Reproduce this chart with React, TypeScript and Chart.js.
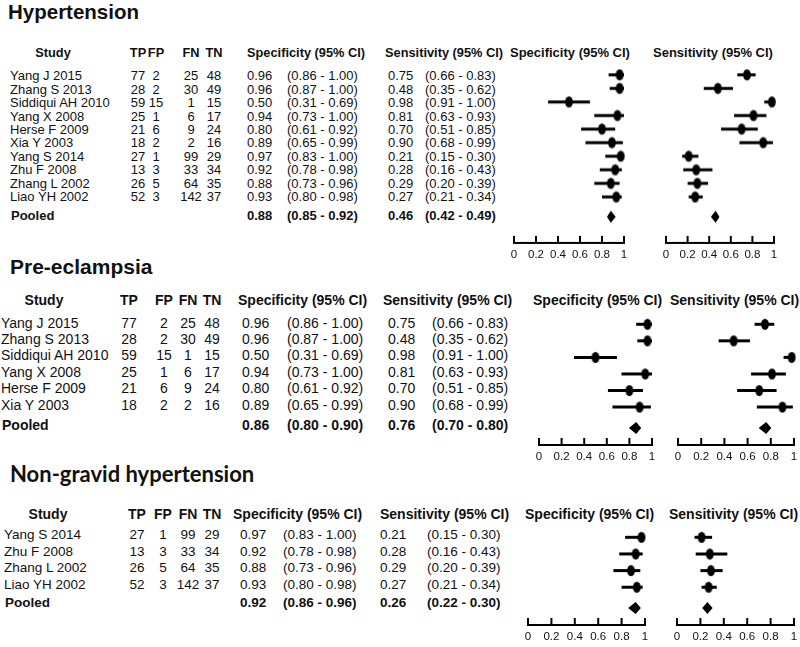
import React, { useEffect, useRef } from "react";
import { Chart, registerables } from "chart.js";
Chart.register(...registerables);

// ---------- DATA ----------
const STUDIES = ["Yang J 2015", "Zhang S 2013", "Siddiqui AH 2010", "Yang X 2008", "Herse F 2009", "Xia Y 2003", "Yang S 2014", "Zhu F 2008", "Zhang L 2002", "Liao YH 2002"];
const TP = [77, 28, 59, 25, 21, 18, 27, 13, 26, 52];
const FP = [2, 2, 15, 1, 6, 2, 1, 3, 5, 3];
const FN = [25, 30, 1, 6, 9, 2, 99, 33, 64, 142];
const TN = [48, 49, 15, 17, 24, 16, 29, 34, 35, 37];
const SPEC = [0.96, 0.96, 0.5, 0.94, 0.8, 0.89, 0.97, 0.92, 0.88, 0.93];
const SPEC_LO = [0.86, 0.87, 0.31, 0.73, 0.61, 0.65, 0.83, 0.78, 0.73, 0.8];
const SPEC_HI = [1.0, 1.0, 0.69, 1.0, 0.92, 0.99, 1.0, 0.98, 0.96, 0.98];
const SENS = [0.75, 0.48, 0.98, 0.81, 0.7, 0.9, 0.21, 0.28, 0.29, 0.27];
const SENS_LO = [0.66, 0.35, 0.91, 0.63, 0.51, 0.68, 0.15, 0.16, 0.2, 0.21];
const SENS_HI = [0.83, 0.62, 1.0, 0.93, 0.85, 0.99, 0.3, 0.43, 0.39, 0.34];

const PANEL_TITLES = ["Hypertension", "Pre-eclampsia", "Non-gravid hypertension"];
const PANEL_STUDY_IDX = [
  [0, 1, 2, 3, 4, 5, 6, 7, 8, 9],
  [0, 1, 2, 3, 4, 5],
  [6, 7, 8, 9],
];
const POOLED_SPEC = [0.88, 0.86, 0.92];
const POOLED_SPEC_LO = [0.85, 0.8, 0.86];
const POOLED_SPEC_HI = [0.92, 0.9, 0.96];
const POOLED_SENS = [0.46, 0.76, 0.26];
const POOLED_SENS_LO = [0.42, 0.7, 0.22];
const POOLED_SENS_HI = [0.49, 0.8, 0.3];
const TICK_LABELS = ["0", "0.2", "0.4", "0.6", "0.8", "1"];
const HEAD_STUDY = "Study";
const HEAD_COLS = ["TP", "FP", "FN", "TN"];
const HEAD_SPEC = "Specificity (95% CI)";
const HEAD_SENS = "Sensitivity (95% CI)";
const POOLED_LABEL = "Pooled";

// ---------- LAYOUT ----------
const FONT = "'Liberation Sans', Arial, sans-serif";
const LAYOUT = [
  {
    titleX: 8, titleY: 12, titleSize: 20.5, titleFont: FONT,
    headY: 53, row0: 76, dy: 13.45, pooledY: 216, size: 13, headSize: 12.8, plotHeadSize: 13,
    studyX: 10, studyHead: 53, cols: [138, 156, 191, 214],
    specVal: 247, specCi: 287, sensVal: 388, sensCi: 425, specHead: 247, sensHead: 385,
    plotSpecHead: 510, plotSensHead: 653,
    plotRow0: 75, plotDy: 13.56, pooledIdx: 10.47, axisY: 243,
    specAxis: [514, 624], sensAxis: [666, 774],
  },
  {
    titleX: 10, titleY: 267, titleSize: 21, titleFont: FONT,
    headY: 300, row0: 323, dy: 16.4, pooledY: 425, size: 14, headSize: 14, plotHeadSize: 14,
    studyX: 1, studyHead: 44, cols: [129, 164, 188, 212],
    specVal: 242, specCi: 287, sensVal: 388, sensCi: 432, specHead: 238, sensHead: 383,
    plotSpecHead: 533, plotSensHead: 670,
    plotRow0: 324, plotDy: 16.6, pooledIdx: 6.27, axisY: 445,
    specAxis: [539, 652], sensAxis: [678, 794],
  },
  {
    titleX: 10, titleY: 474, titleSize: 22, titleFont: "Lato, 'Open Sans', sans-serif",
    headY: 514, row0: 535, dy: 16.7, pooledY: 603, size: 13.5, headSize: 14, plotHeadSize: 14,
    studyX: 4, studyHead: 48, cols: [137, 163, 188, 212],
    specVal: 240, specCi: 283, sensVal: 380, sensCi: 427, specHead: 233, sensHead: 380,
    plotSpecHead: 525, plotSensHead: 669,
    plotRow0: 537, plotDy: 16.7, pooledIdx: 4.25, axisY: 625,
    specAxis: [528, 645], sensAxis: [677, 794],
  },
];

const PAD_X = 14;
const PAD_TOP = 8;
const AXIS_H = 24;

function f2(v: number) {
  return v.toFixed(2);
}
function ci(lo: number, hi: number) {
  return `(${f2(lo)} - ${f2(hi)})`;
}

function makeEllipse() {
  const c = document.createElement("canvas");
  c.width = 10;
  c.height = 13;
  const g = c.getContext("2d")!;
  g.fillStyle = "#000";
  g.beginPath();
  g.ellipse(5, 6.5, 3.9, 5.6, 0, 0, Math.PI * 2);
  g.fill();
  return c;
}

type ForestProps = {
  axis: number[];
  row0: number;
  dy: number;
  axisY: number;
  vals: number[];
  lo: number[];
  hi: number[];
  p: number;
  pLo: number;
  pHi: number;
  pooledIdx: number;
};

function Forest(props: ForestProps) {
  const ref = useRef<HTMLCanvasElement>(null);
  const { axis, row0, dy, axisY, vals, lo, hi, p, pLo, pHi, pooledIdx } = props;
  const areaTop = row0 - 0.5 * dy;
  const left = axis[0] - PAD_X;
  const width = axis[1] - axis[0] + 2 * PAD_X;
  const top = areaTop - PAD_TOP;
  const height = PAD_TOP + (axisY - areaTop) + AXIS_H;
  const yMax = (axisY - row0) / dy;

  useEffect(() => {
    const plugin = {
      id: "forest",
      beforeDatasetsDraw(chart: any) {
        const { ctx } = chart;
        const x = chart.scales.x;
        const y = chart.scales.y;
        ctx.save();
        ctx.strokeStyle = "#000";
        ctx.lineWidth = 3;
        lo.forEach((l, i) => {
          const yy = y.getPixelForValue(i);
          ctx.beginPath();
          ctx.moveTo(x.getPixelForValue(l), yy);
          ctx.lineTo(x.getPixelForValue(hi[i]), yy);
          ctx.stroke();
        });
        const py = y.getPixelForValue(pooledIdx);
        const xl = x.getPixelForValue(pLo);
        const xh = x.getPixelForValue(pHi);
        const xm = x.getPixelForValue(p);
        ctx.fillStyle = "#000";
        ctx.beginPath();
        ctx.moveTo(xl - 0.5, py);
        ctx.lineTo(xm, py - 6);
        ctx.lineTo(xh + 0.5, py);
        ctx.lineTo(xm, py + 6);
        ctx.closePath();
        ctx.fill();
        ctx.restore();
      },
      afterDraw(chart: any) {
        const { ctx } = chart;
        const x = chart.scales.x;
        const bottom = chart.chartArea.bottom;
        ctx.save();
        ctx.strokeStyle = "#000";
        ctx.lineWidth = 2;
        x.ticks.forEach((t: any) => {
          const px = x.getPixelForValue(t.value);
          ctx.beginPath();
          ctx.moveTo(px, bottom + 1);
          ctx.lineTo(px, bottom - 7);
          ctx.stroke();
        });
        ctx.restore();
      },
    };
    const chart = new Chart(ref.current!, {
      type: "scatter",
      data: {
        datasets: [
          {
            data: vals.map((v, i) => ({ x: v, y: i })),
            pointStyle: makeEllipse() as any,
            pointRadius: 5,
            clip: false as any,
          },
        ],
      },
      options: {
        animation: false,
        responsive: false,
        layout: { padding: { left: PAD_X, right: PAD_X, top: PAD_TOP, bottom: 0 } },
        plugins: { legend: { display: false }, tooltip: { enabled: false } },
        scales: {
          x: {
            type: "linear",
            min: 0,
            max: 1,
            position: "bottom",
            ticks: {
              stepSize: 0.2,
              autoSkip: false,
              maxRotation: 0,
              padding: 5,
              color: "#111",
              font: { family: FONT, size: 11.5 },
              callback: (_v: any, i: number) => TICK_LABELS[i],
            },
            grid: { display: false, drawTicks: false },
            border: { display: true, color: "#000", width: 2 },
            afterFit: (s: any) => {
              s.height = AXIS_H;
            },
          },
          y: { type: "linear", display: false, reverse: true, min: -0.5, max: yMax },
        },
      },
      plugins: [plugin],
    });
    return () => chart.destroy();
  }, []);

  return (
    <canvas
      ref={ref}
      width={width}
      height={height}
      style={{ position: "absolute", left, top, width, height }}
    />
  );
}

function Txt({ x, y, s, size, bold, align, font }: any) {
  return (
    <div
      style={{
        position: "absolute",
        left: x,
        top: y - size * 0.6,
        fontSize: size,
        lineHeight: `${size * 1.2}px`,
        fontWeight: bold ? 700 : 400,
        fontFamily: font || FONT,
        whiteSpace: "nowrap",
        color: "#111",
        transform: align === "center" ? "translateX(-50%)" : undefined,
      }}
    >
      {s}
    </div>
  );
}

function Panel({ k }: { k: number }) {
  const L = LAYOUT[k];
  const idx = PANEL_STUDY_IDX[k];
  const pick = (arr: number[]) => idx.map((i) => arr[i]);
  const items: any[] = [];
  items.push(<Txt key="t" x={L.titleX} y={L.titleY} s={PANEL_TITLES[k]} size={L.titleSize} bold font={L.titleFont} />);
  items.push(<Txt key="hs" x={L.studyHead} y={L.headY} s={HEAD_STUDY} size={L.headSize} bold align="center" />);
  HEAD_COLS.forEach((h, j) =>
    items.push(<Txt key={"hc" + j} x={L.cols[j]} y={L.headY} s={h} size={L.headSize} bold align="center" />)
  );
  items.push(<Txt key="hsp" x={L.specHead} y={L.headY} s={HEAD_SPEC} size={L.headSize} bold />);
  items.push(<Txt key="hse" x={L.sensHead} y={L.headY} s={HEAD_SENS} size={L.headSize} bold />);
  items.push(<Txt key="psp" x={L.plotSpecHead} y={L.headY} s={HEAD_SPEC} size={L.plotHeadSize} bold />);
  items.push(<Txt key="pse" x={L.plotSensHead} y={L.headY} s={HEAD_SENS} size={L.plotHeadSize} bold />);
  idx.forEach((si, r) => {
    const y = L.row0 + r * L.dy;
    items.push(<Txt key={"n" + r} x={L.studyX} y={y} s={STUDIES[si]} size={L.size} />);
    [TP, FP, FN, TN].forEach((arr, j) =>
      items.push(<Txt key={"c" + r + "_" + j} x={L.cols[j]} y={y} s={String(arr[si])} size={L.size} align="center" />)
    );
    items.push(<Txt key={"sv" + r} x={L.specVal} y={y} s={f2(SPEC[si])} size={L.size} />);
    items.push(<Txt key={"sc" + r} x={L.specCi} y={y} s={ci(SPEC_LO[si], SPEC_HI[si])} size={L.size} />);
    items.push(<Txt key={"ev" + r} x={L.sensVal} y={y} s={f2(SENS[si])} size={L.size} />);
    items.push(<Txt key={"ec" + r} x={L.sensCi} y={y} s={ci(SENS_LO[si], SENS_HI[si])} size={L.size} />);
  });
  const py = L.pooledY;
  items.push(<Txt key="pl" x={L.studyX + 1} y={py} s={POOLED_LABEL} size={L.size} bold />);
  items.push(<Txt key="psv" x={L.specVal} y={py} s={f2(POOLED_SPEC[k])} size={L.size} bold />);
  items.push(<Txt key="psc" x={L.specCi} y={py} s={ci(POOLED_SPEC_LO[k], POOLED_SPEC_HI[k])} size={L.size} bold />);
  items.push(<Txt key="pev" x={L.sensVal} y={py} s={f2(POOLED_SENS[k])} size={L.size} bold />);
  items.push(<Txt key="pec" x={L.sensCi} y={py} s={ci(POOLED_SENS_LO[k], POOLED_SENS_HI[k])} size={L.size} bold />);

  return (
    <>
      {items}
      <Forest
        axis={L.specAxis}
        row0={L.plotRow0}
        dy={L.plotDy}
        axisY={L.axisY}
        vals={pick(SPEC)}
        lo={pick(SPEC_LO)}
        hi={pick(SPEC_HI)}
        p={POOLED_SPEC[k]}
        pLo={POOLED_SPEC_LO[k]}
        pHi={POOLED_SPEC_HI[k]}
        pooledIdx={L.pooledIdx}
      />
      <Forest
        axis={L.sensAxis}
        row0={L.plotRow0}
        dy={L.plotDy}
        axisY={L.axisY}
        vals={pick(SENS)}
        lo={pick(SENS_LO)}
        hi={pick(SENS_HI)}
        p={POOLED_SENS[k]}
        pLo={POOLED_SENS_LO[k]}
        pHi={POOLED_SENS_HI[k]}
        pooledIdx={L.pooledIdx}
      />
    </>
  );
}

export default function App() {
  return (
    <div
      style={{
        position: "absolute",
        left: 0,
        top: 0,
        width: 800,
        height: 647,
        overflow: "hidden",
        background: "#fff",
        fontFamily: FONT,
      }}
    >
      <Panel k={0} />
      <Panel k={1} />
      <Panel k={2} />
    </div>
  );
}
